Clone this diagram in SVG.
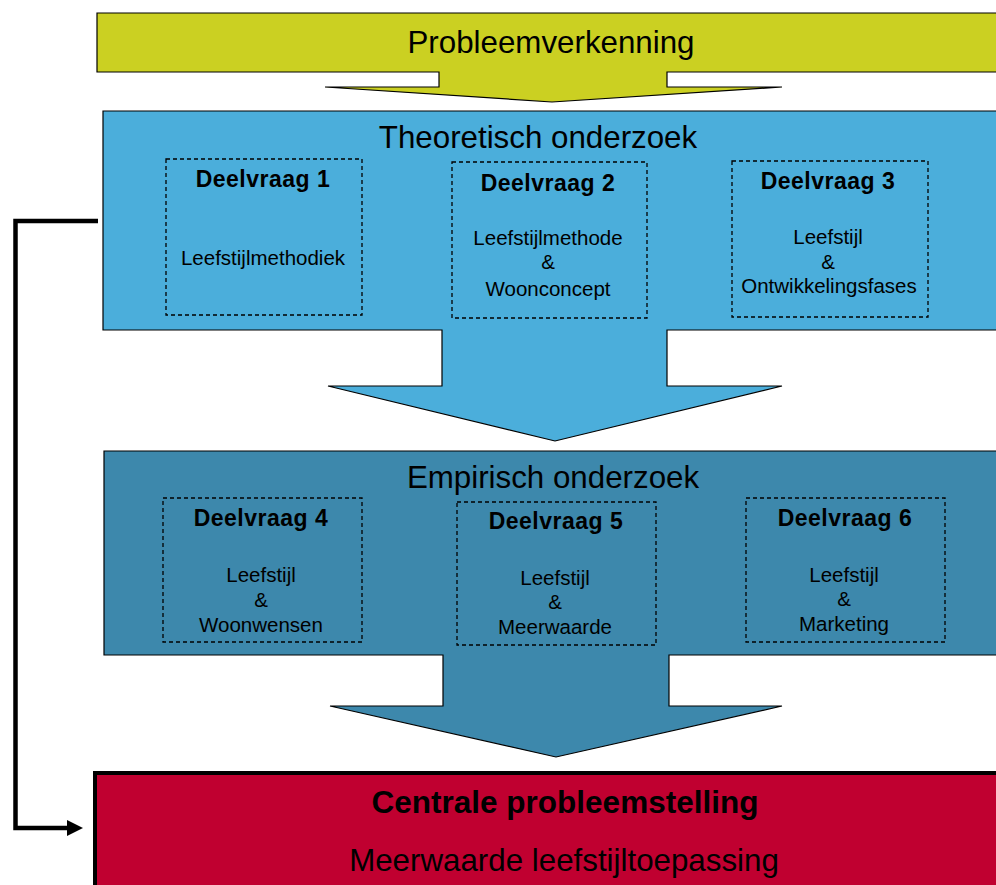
<svg xmlns="http://www.w3.org/2000/svg" width="996" height="885" viewBox="0 0 996 885">
<style>
  text { font-family: "Liberation Sans", Arial, sans-serif; fill: #000; text-anchor: middle; }
  .big { font-size: 31.3px; }
  .bigb { font-size: 31.5px; font-weight: bold; }
  .dt { font-size: 23px; font-weight: bold; letter-spacing: 0.5px; }
  .body { font-size: 20.5px; }
  .dash { fill: none; stroke: #000; stroke-width: 1.3; stroke-dasharray: 4 3; }
  .outline { stroke: #000; stroke-width: 1.2; stroke-linejoin: miter; }
  .conn { fill: none; stroke: #000; stroke-width: 4.5; }
</style>
<rect width="996" height="885" fill="#fff"/>

<g id="probleemverkenning">
  <path class="outline" fill="#CBD022" d="M97,13 H1000 V72 H667 V87 H782 L552,102 L325,87 H439 V72 H97 Z"/>
  <text class="big" x="551" y="53">Probleemverkenning</text>
</g>

<g id="theoretisch">
  <path class="outline" fill="#4BAEDB" d="M103,111 H1000 V330 H667 V386 H782 L555,441 L328,386 H442 V330 H103 Z"/>
  <text class="big" x="538" y="148">Theoretisch onderzoek</text>
</g>

<g id="deelvraag1">
  <rect class="dash" x="166" y="159" width="196" height="156"/>
  <text class="dt" x="263" y="187">Deelvraag 1</text>
  <text class="body" x="263" y="265">Leefstijlmethodiek</text>
</g>
<g id="deelvraag2">
  <rect class="dash" x="452" y="162" width="195" height="156"/>
  <text class="dt" x="548" y="191">Deelvraag 2</text>
  <text class="body" x="548" y="245">Leefstijlmethode</text>
  <text class="body" x="548" y="269">&amp;</text>
  <text class="body" x="548" y="296">Woonconcept</text>
</g>
<g id="deelvraag3">
  <rect class="dash" x="732" y="161" width="196" height="156"/>
  <text class="dt" x="828" y="189">Deelvraag 3</text>
  <text class="body" x="828" y="244">Leefstijl</text>
  <text class="body" x="828" y="269">&amp;</text>
  <text class="body" x="829" y="293">Ontwikkelingsfases</text>
</g>

<g id="empirisch">
  <path class="outline" fill="#3D88AC" d="M104,451 H1000 V655 H669 V706 H782 L556,757 L330,706 H443 V655 H104 Z"/>
  <text class="big" x="553" y="488">Empirisch onderzoek</text>
</g>

<g id="deelvraag4">
  <rect class="dash" x="163" y="498" width="199" height="144"/>
  <text class="dt" x="261" y="526">Deelvraag 4</text>
  <text class="body" x="261" y="582">Leefstijl</text>
  <text class="body" x="261" y="607">&amp;</text>
  <text class="body" x="261" y="632">Woonwensen</text>
</g>
<g id="deelvraag5">
  <rect class="dash" x="457" y="502" width="199" height="143"/>
  <text class="dt" x="556" y="529">Deelvraag 5</text>
  <text class="body" x="555" y="585">Leefstijl</text>
  <text class="body" x="555" y="609">&amp;</text>
  <text class="body" x="555" y="634">Meerwaarde</text>
</g>
<g id="deelvraag6">
  <rect class="dash" x="746" y="498" width="199" height="144"/>
  <text class="dt" x="845" y="526">Deelvraag 6</text>
  <text class="body" x="844" y="582">Leefstijl</text>
  <text class="body" x="844" y="606">&amp;</text>
  <text class="body" x="844" y="631">Marketing</text>
</g>

<g id="centrale">
  <rect x="95" y="773" width="910" height="120" fill="#C00030" stroke="#000" stroke-width="4"/>
  <text class="bigb" x="565" y="813">Centrale probleemstelling</text>
  <text class="big" x="564" y="871">Meerwaarde leefstijltoepassing</text>
</g>

<g id="connectors">
  <path class="conn" d="M98,221 H15.5 V828 H70"/>
  <polygon points="67,820 83,828 67,836" fill="#000"/>
</g>
</svg>
